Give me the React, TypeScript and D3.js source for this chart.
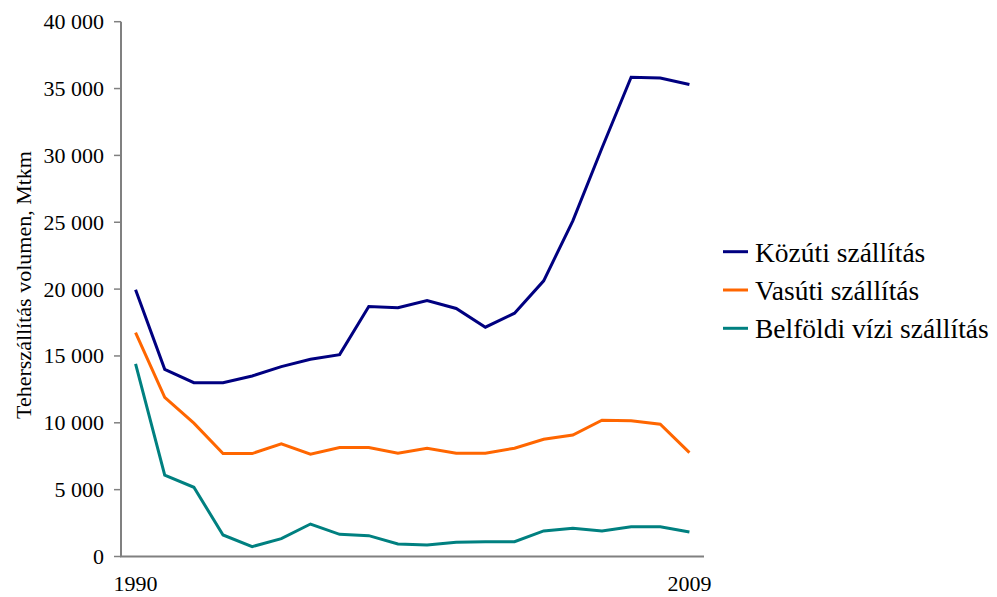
import React from "react";
import * as d3 from "d3";

const years: number[] = [1990, 1991, 1992, 1993, 1994, 1995, 1996, 1997, 1998, 1999, 2000, 2001, 2002, 2003, 2004, 2005, 2006, 2007, 2008, 2009];
const kozuti: number[] = [19950, 14000, 13000, 13000, 13500, 14200, 14750, 15100, 18700, 18600, 19150, 18550, 17150, 18200, 20620, 25100, 30550, 35850, 35790, 35300];
const vasuti: number[] = [16750, 11900, 9970, 7700, 7700, 8420, 7650, 8150, 8150, 7720, 8100, 7720, 7720, 8100, 8770, 9090, 10190, 10160, 9890, 7770];
const vizi: number[] = [14400, 6080, 5180, 1610, 740, 1340, 2430, 1660, 1560, 940, 860, 1060, 1110, 1110, 1910, 2110, 1910, 2230, 2230, 1830];
const seriesNames: string[] = ["Közúti szállítás", "Vasúti szállítás", "Belföldi vízi szállítás"];
const seriesColors: string[] = ["#000080", "#FF6600", "#008080"];
const yTicks: number[] = [0, 5000, 10000, 15000, 20000, 25000, 30000, 35000, 40000];
const xLabels: number[] = [1990, 2009];
const yTitle = "Teherszállítás volumen, Mtkm";

const W = 997, H = 597;
const plot = { left: 121, right: 704, top: 21.7, bottom: 556.5 };
const FONT = "Liberation Serif";

export default function App() {
  const x = d3.scaleBand<number>().domain(years).range([plot.left, plot.right]);
  const xc = (yr: number) => (x(yr) as number) + x.bandwidth() / 2;
  const y = d3.scaleLinear().domain([0, 40000]).range([plot.bottom, plot.top]);
  const fmt = (v: number) => d3.format(",")(v).replace(/,/g, " ");
  const line = d3.line<number>().x((_, i) => xc(years[i])).y((d) => y(d));
  const data = [kozuti, vasuti, vizi];

  return (
    <svg width={W} height={H} style={{ position: "fixed", left: 0, top: 0, background: "#fff" }}>
      <g fontFamily={FONT} fill="#000">
        <line x1={plot.left} x2={plot.left} y1={y(40000)} y2={plot.bottom} stroke="#808080" strokeWidth={2} />
        {yTicks.map((t) => (
          <g key={t}>
            <line x1={plot.left - 7} x2={plot.left} y1={y(t)} y2={y(t)} stroke="#808080" strokeWidth={1.5} />
            <text x={104} y={y(t) + 7.4} textAnchor="end" fontSize={22}>{fmt(t)}</text>
          </g>
        ))}
        <line x1={plot.left - 1} x2={plot.right} y1={plot.bottom} y2={plot.bottom} stroke="#808080" strokeWidth={2} />
        {xLabels.map((yr) => (
          <text key={yr} x={xc(yr)} y={591} textAnchor="middle" fontSize={22}>{String(yr)}</text>
        ))}
        <text transform="translate(31,285) rotate(-90)" textAnchor="middle" fontSize={22}>{yTitle}</text>
        {data.map((s, i) => (
          <path key={i} d={line(s) as string} fill="none" stroke={seriesColors[i]} strokeWidth={3} />
        ))}
        {seriesNames.map((n, i) => {
          const cy = 251.7 + i * 38.3;
          return (
            <g key={n}>
              <line x1={723} x2={748} y1={cy} y2={cy} stroke={seriesColors[i]} strokeWidth={3} />
              <text x={755} y={cy + 10} fontSize={27.5}>{n}</text>
            </g>
          );
        })}
      </g>
    </svg>
  );
}
